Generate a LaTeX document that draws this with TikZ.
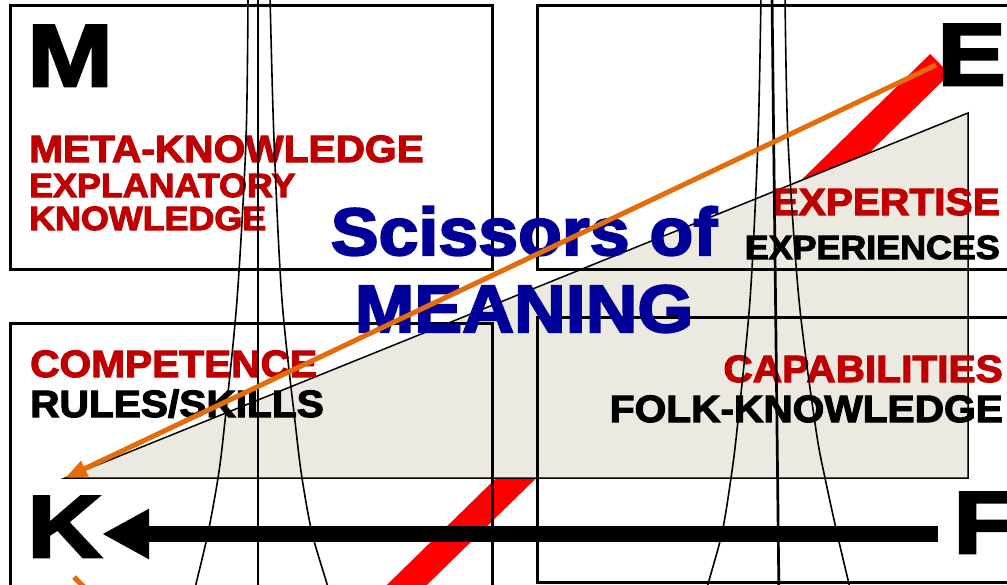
\documentclass[tikz,border=0pt]{standalone}
\usepackage{fontspec}
\newfontfamily\heavyfont{Liberation Sans}[FakeStretch=1.07,BoldFeatures={FakeBold=3}]
\newfontfamily\letterfont{Liberation Sans}[FakeStretch=1.17,BoldFeatures={FakeBold=3}]
\usepackage{tikz}
\usetikzlibrary{arrows.meta}
\definecolor{textred}{RGB}{192,0,0}
\definecolor{titleblue}{RGB}{0,0,153}
\definecolor{wedgebeige}{RGB}{236,233,224}
\definecolor{pathorange}{RGB}{228,108,10}

\begin{document}
\begin{tikzpicture}[x=1pt,y=-1pt,
   box/.style={draw,line width=3pt},
   lbl/.style={inner sep=0pt,anchor=base west,font=\heavyfont\bfseries\fontsize{38}{38}\selectfont},
   lblr/.style={lbl,anchor=base east},
   letter/.style={lbl,font=\letterfont\bfseries\fontsize{88}{88}\selectfont},
   small/.style={lbl,font=\heavyfont\bfseries\fontsize{33.5}{33.5}\selectfont},
   ttl/.style={lbl,anchor=base,text=titleblue,font=\heavyfont\bfseries\fontsize{67}{67}\selectfont},
   blade/.style={line width=1.6pt},
   pivot/.style={line width=2.7pt}]
  \useasboundingbox (0,0) rectangle (1007,584);
  \clip (0,0) rectangle (1007,584);
  \coordinate (wedgeK) at (65,478);
  \coordinate (wedgeF) at (968,478);
  \coordinate (wedgeE) at (968,113);
  \coordinate (redtop) at (940,64);
  \coordinate (redend) at (371,620);
  \coordinate (orangestart) at (936,65);
  \coordinate (arrowstart) at (938,534);
  \coordinate (arrowtip) at (102,534);
  \coordinate (stubA) at (74,577);
  \coordinate (stubB) at (95,598);
  \draw[red,line width=28pt] (redtop) -- (redend);
  \draw[fill=wedgebeige,line width=1.5pt,line join=miter] (wedgeK) -- (wedgeE) -- (wedgeF) -- cycle;
  \draw[box] (10,5) rectangle (492,269);
  \draw[box] (537,5) rectangle (1020,269);
  \draw[box] (10,323) rectangle (492,600);
  \draw[box] (537,317) rectangle (1020,582);
  \node[letter] (lblM) at (27,86) {M};
  \node[letter] (lblE) at (937,85) {E};
  \node[letter] (lblK) at (27,557) {K};
  \node[letter] (lblF) at (953,553) {F};
  \node[lbl,text=textred] (meta) at (29,162) {META-KNOWLEDGE};
  \node[small,text=textred] (expl) at (29,197) {EXPLANATORY};
  \node[small,text=textred] (know) at (29,230) {KNOWLEDGE};
  \node[lblr,text=textred] (expertise) at (1000,215) {EXPERTISE};
  \node[lblr,font=\heavyfont\bfseries\fontsize{33.5}{33.5}\selectfont] (experiences) at (1000,259) {EXPERIENCES};
  \node[lbl,text=textred] (competence) at (30,377) {COMPETENCE};
  \node[lbl] (rules) at (30,417) {RULES/SKILLS};
  \node[lblr,text=textred] (capabilities) at (1003,382) {CAPABILITIES};
  \node[lblr] (folk) at (1003,422) {FOLK-KNOWLEDGE};
  \node[ttl] (title) at (524,255) {Scissors of};
  \node[ttl] (meaning) at (524,332) {MEANING};
  \draw[pivot] (258,-5) -- (258,600);
  \draw[blade] plot[smooth] coordinates {(248,-5) (246,140) (237,300) (224,430) (218,478) (208,533) (196,584) (192,600)};
  \draw[blade] plot[smooth] coordinates {(270,-5) (274,140) (282,300) (296,430) (302,478) (312,533) (327,584) (331,600)};
  \draw[pivot] (772,-5) -- (779,600);
  \draw[blade] plot[smooth] coordinates {(761,-5) (758,140) (750,300) (737,430) (731,478) (722,533) (708,584) (704,600)};
  \draw[blade] plot[smooth] coordinates {(785,-5) (788,140) (799,300) (816,430) (825,478) (837,533) (849,584) (853,600)};
  \draw[line width=16pt,-{Triangle[length=47pt,width=47pt]}] (arrowstart) -- (arrowtip);
  \draw[pathorange,line width=5pt,-{Triangle[length=22pt,width=16pt]}] (orangestart) -- (wedgeK);
  \draw[pathorange,line width=5pt] (stubA) -- (stubB);
\end{tikzpicture}
\end{document}
